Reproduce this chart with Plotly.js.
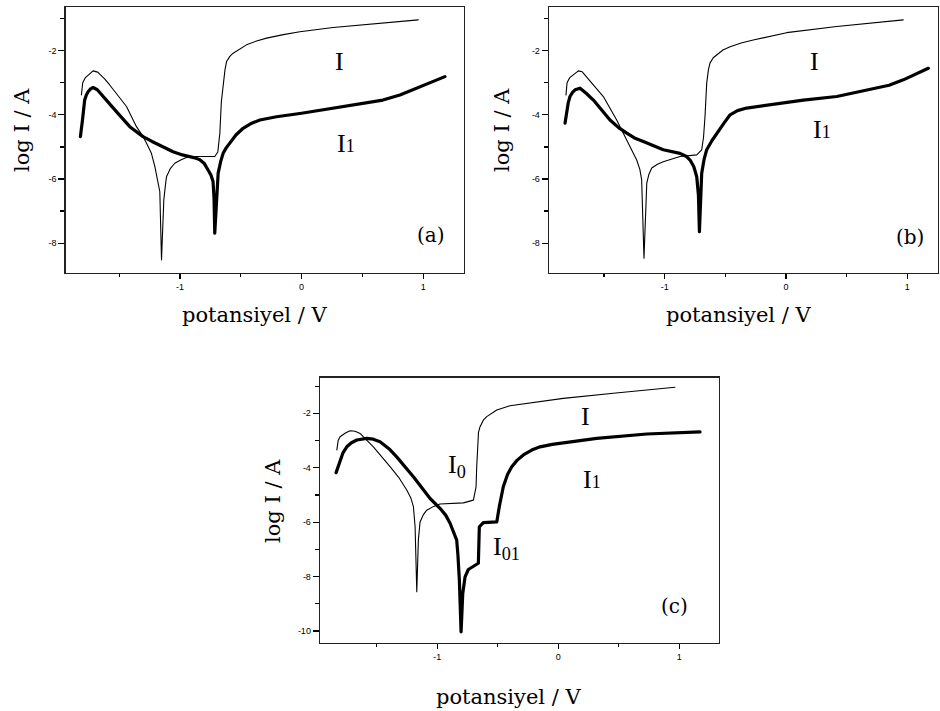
<!DOCTYPE html>
<html>
<head>
<meta charset="utf-8">
<script src="https://cdn.plot.ly/plotly-3.0.1.min.js"></script>
<style>html,body{margin:0;padding:0;background:#fff;}#chart{width:940px;height:711px;}
.js-line{stroke-linejoin:round;stroke-linecap:round;}</style>
</head>
<body>
<div id="chart"></div>
<script>
// ---------- data ----------
// Panel (a)
const potA_I  = [-1.811,-1.800,-1.780,-1.740,-1.715,-1.677,-1.620,-1.578,-1.510,-1.440,-1.358,-1.310,-1.276,-1.235,-1.207,-1.180,-1.166,-1.152,-1.140,-1.133,-1.120,-1.111,-1.080,-1.043,-0.990,-0.947,-0.864,-0.714,-0.689,-0.672,-0.660,-0.645,-0.630,-0.617,-0.590,-0.563,-0.500,-0.453,-0.370,-0.288,-0.150,-0.014,0.26,0.535,0.75,0.96];
const logA_I  = [-3.38,-3.00,-2.85,-2.72,-2.63,-2.67,-2.88,-3.07,-3.40,-3.74,-4.37,-4.64,-4.88,-5.20,-5.61,-6.10,-6.39,-8.52,-7.20,-6.65,-6.20,-5.93,-5.68,-5.51,-5.40,-5.33,-5.30,-5.30,-5.16,-4.57,-3.60,-3.01,-2.60,-2.34,-2.18,-2.08,-1.93,-1.82,-1.70,-1.61,-1.50,-1.41,-1.28,-1.18,-1.11,-1.04];
const potA_I1 = [-1.819,-1.815,-1.802,-1.790,-1.784,-1.770,-1.756,-1.735,-1.715,-1.680,-1.633,-1.523,-1.413,-1.350,-1.304,-1.230,-1.166,-1.110,-1.057,-0.980,-0.919,-0.870,-0.837,-0.800,-0.769,-0.745,-0.728,-0.720,-0.714,-0.706,-0.700,-0.686,-0.665,-0.645,-0.620,-0.590,-0.540,-0.481,-0.420,-0.343,-0.206,0,0.258,0.535,0.669,0.809,0.947,1.083,1.179];
const logA_I1 = [-4.68,-4.50,-4.16,-3.75,-3.54,-3.38,-3.28,-3.19,-3.15,-3.22,-3.43,-3.90,-4.37,-4.56,-4.68,-4.83,-4.94,-5.05,-5.15,-5.25,-5.30,-5.35,-5.40,-5.52,-5.72,-5.88,-6.08,-6.60,-7.69,-7.20,-6.65,-5.82,-5.45,-5.20,-5.03,-4.88,-4.63,-4.42,-4.28,-4.16,-4.06,-3.95,-3.79,-3.64,-3.54,-3.38,-3.17,-2.97,-2.81];
// Panel (b)
const potB_I  = [-1.814,-1.805,-1.785,-1.745,-1.712,-1.680,-1.600,-1.506,-1.396,-1.313,-1.231,-1.205,-1.190,-1.171,-1.160,-1.148,-1.130,-1.107,-1.060,-1.012,-0.874,-0.736,-0.695,-0.680,-0.668,-0.654,-0.640,-0.627,-0.600,-0.571,-0.520,-0.461,-0.370,-0.270,-0.130,0.005,0.418,0.967];
const logB_I  = [-3.38,-3.00,-2.85,-2.72,-2.63,-2.66,-3.00,-3.43,-4.16,-4.78,-5.41,-5.70,-6.03,-8.47,-7.00,-6.13,-5.85,-5.66,-5.54,-5.46,-5.30,-5.25,-5.09,-4.70,-4.06,-3.02,-2.60,-2.39,-2.22,-2.13,-1.98,-1.88,-1.76,-1.67,-1.55,-1.44,-1.25,-1.04];
const potB_I1 = [-1.822,-1.815,-1.808,-1.795,-1.781,-1.760,-1.739,-1.718,-1.698,-1.650,-1.588,-1.451,-1.380,-1.313,-1.250,-1.176,-1.012,-0.874,-0.820,-0.791,-0.760,-0.736,-0.722,-0.714,-0.705,-0.695,-0.675,-0.654,-0.610,-0.571,-0.510,-0.461,-0.400,-0.324,-0.132,0.143,0.418,0.692,0.850,0.967,1.173];
const logB_I1 = [-4.26,-4.05,-3.85,-3.62,-3.43,-3.30,-3.22,-3.18,-3.17,-3.32,-3.54,-4.16,-4.40,-4.57,-4.72,-4.83,-5.09,-5.20,-5.30,-5.41,-5.62,-5.93,-6.50,-7.64,-6.60,-5.82,-5.38,-5.09,-4.80,-4.57,-4.25,-4.00,-3.87,-3.79,-3.69,-3.54,-3.43,-3.22,-3.08,-2.91,-2.55];
// Panel (c)
const potC_I  = [-1.831,-1.820,-1.804,-1.760,-1.721,-1.680,-1.639,-1.529,-1.391,-1.320,-1.253,-1.220,-1.198,-1.184,-1.170,-1.163,-1.157,-1.143,-1.115,-1.088,-1.030,-0.978,-0.785,-0.702,-0.680,-0.675,-0.669,-0.660,-0.647,-0.620,-0.592,-0.509,-0.400,-0.234,0.041,0.455,0.964];
const logC_I  = [-3.35,-3.00,-2.86,-2.72,-2.64,-2.66,-2.74,-3.23,-3.96,-4.35,-4.82,-5.10,-5.43,-6.17,-8.56,-7.30,-6.66,-5.99,-5.72,-5.56,-5.42,-5.33,-5.29,-5.19,-4.70,-4.00,-3.23,-2.70,-2.49,-2.25,-2.12,-1.88,-1.72,-1.61,-1.45,-1.26,-1.04];
const potC_I1 = [-1.837,-1.820,-1.804,-1.780,-1.749,-1.710,-1.666,-1.620,-1.584,-1.530,-1.474,-1.400,-1.336,-1.198,-1.060,-0.978,-0.930,-0.895,-0.865,-0.840,-0.830,-0.818,-0.804,-0.790,-0.771,-0.744,-0.661,-0.653,-0.620,-0.509,-0.488,-0.455,-0.420,-0.385,-0.340,-0.289,-0.220,-0.151,-0.050,0.041,0.317,0.731,1.171];
const logC_I1 = [-4.18,-3.95,-3.72,-3.45,-3.23,-3.08,-2.98,-2.93,-2.92,-2.95,-3.04,-3.30,-3.60,-4.33,-5.13,-5.49,-5.75,-6.04,-6.35,-6.66,-7.20,-8.13,-10.03,-8.62,-8.01,-7.74,-7.51,-6.17,-6.02,-5.99,-5.43,-4.70,-4.25,-3.96,-3.72,-3.53,-3.35,-3.23,-3.14,-3.08,-2.92,-2.76,-2.68];

const xTickVals = [-1, 0, 1];
const xTickText = ['-1', '0', '1'];
const yTickValsAB = [-8, -6, -4, -2];
const yTickTextAB = ['-8', '-6', '-4', '-2'];
const yTickValsC = [-10, -8, -6, -4, -2];
const yTickTextC = ['-10', '-8', '-6', '-4', '-2'];

// ---------- helpers ----------
const W = 940, H = 711;
const px = v => v / W;
const py = v => 1 - v / H;

function thin(x, y, xa, ya) {
  return {x: x, y: y, xaxis: xa, yaxis: ya, mode: 'lines', line: {color: '#000', width: 1.1}, hoverinfo: 'skip'};
}
function thick(x, y, xa, ya) {
  return {x: x, y: y, xaxis: xa, yaxis: ya, mode: 'lines', line: {color: '#000', width: 3.2}, hoverinfo: 'skip'};
}

const tickFont = {family: 'Liberation Sans, Arial, sans-serif', size: 9, color: '#000'};
function xAxis(dom, range, anchor) {
  return {
    domain: dom, range: range, anchor: anchor,
    showline: true, mirror: true, linecolor: '#222', linewidth: 1.3,
    showgrid: false, zeroline: false,
    tickmode: 'array', tickvals: xTickVals, ticktext: xTickText,
    ticks: 'outside', ticklen: 5, tickwidth: 1.2, tickcolor: '#000',
    minor: {tickmode: 'linear', tick0: 0, dtick: 0.5, ticks: 'outside', ticklen: 3, tickwidth: 1.2, tickcolor: '#000'},
    tickfont: tickFont, fixedrange: true
  };
}
function yAxis(dom, range, anchor, vals, text) {
  return {
    domain: dom, range: range, anchor: anchor,
    showline: true, mirror: true, linecolor: '#222', linewidth: 1.3,
    showgrid: false, zeroline: false,
    tickmode: 'array', tickvals: vals, ticktext: text,
    ticks: 'outside', ticklen: 6, tickwidth: 1.2, tickcolor: '#000',
    minor: {tickmode: 'linear', tick0: 0, dtick: 1, ticks: 'outside', ticklen: 4, tickwidth: 1.2, tickcolor: '#000'},
    tickfont: tickFont, fixedrange: true
  };
}

const data = [
  thin(potA_I, logA_I, 'x', 'y'),
  thick(potA_I1, logA_I1, 'x', 'y'),
  thin(potB_I, logB_I, 'x2', 'y2'),
  thick(potB_I1, logB_I1, 'x2', 'y2'),
  thin(potC_I, logC_I, 'x3', 'y3'),
  thick(potC_I1, logC_I1, 'x3', 'y3')
];

const serif = '"DejaVu Serif", "Liberation Serif", serif';
const lblFont = {family: '"Liberation Serif", "Times New Roman", serif', size: 26, color: '#000'};
const titleFont = {family: serif, size: 21, color: '#000'};
const panelFont = {family: serif, size: 20, color: '#000'};

function ann(text, x, y, font, angle) {
  return {text: text, x: px(x), y: py(y), xref: 'paper', yref: 'paper', showarrow: false,
          xanchor: 'center', yanchor: 'middle', font: font, textangle: angle || 0};
}
const sub1 = 'I<span style="font-size:18px">1</span>';

const annotations = [
  // axis titles
  ann('potansiyel / V', 255, 315, titleFont),
  ann('potansiyel / V', 738, 315, titleFont),
  ann('potansiyel / V', 508, 697, titleFont),
  ann('log I / A', 22, 130, titleFont, -90),
  ann('log I / A', 502, 130, titleFont, -90),
  ann('log I / A', 273, 501, titleFont, -90),
  // curve labels
  ann('I', 339, 62, lblFont),
  ann(sub1, 346, 143, lblFont),
  ann('I', 814, 62, lblFont),
  ann(sub1, 822, 129, lblFont),
  ann('I', 585, 416, lblFont),
  ann('I<sub>0</sub>', 457, 466, lblFont),
  ann(sub1, 592, 479, lblFont),
  ann('I<sub>01</sub>', 506, 548, lblFont),
  // panel letters
  ann('(a)', 431, 235, panelFont),
  ann('(b)', 910, 237, panelFont),
  ann('(c)', 674, 606, panelFont)
];

const layout = {
  width: W, height: H,
  margin: {l: 0, r: 0, t: 0, b: 0},
  paper_bgcolor: '#fff', plot_bgcolor: '#fff',
  showlegend: false,
  xaxis:  xAxis([px(65.7), px(464)], [-1.94, 1.336], 'y'),
  yaxis:  yAxis([py(273), py(7)], [-8.93, -0.64], 'x', yTickValsAB, yTickTextAB),
  xaxis2: xAxis([px(549), px(938)], [-1.954, 1.253], 'y2'),
  yaxis2: yAxis([py(273), py(7)], [-8.93, -0.64], 'x2', yTickValsAB, yTickTextAB),
  xaxis3: xAxis([px(320), px(719)], [-1.97, 1.328], 'y3'),
  yaxis3: yAxis([py(642.7), py(377.7)], [-10.43, -0.69], 'x3', yTickValsC, yTickTextC),
  annotations: annotations
};

Plotly.newPlot('chart', data, layout, {displayModeBar: false, staticPlot: true});
</script>
</body>
</html>
